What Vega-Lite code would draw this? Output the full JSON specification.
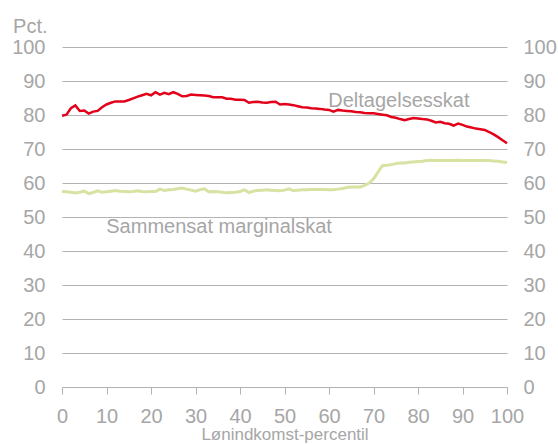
{
  "$schema": "https://vega.github.io/schema/vega-lite/v6.json",
  "width": 445,
  "height": 340,
  "autosize": "none",
  "padding": {"left": 62, "top": 47, "right": 51, "bottom": 57},
  "background": "white",
  "config": {
    "view": {"stroke": null},
    "font": "Liberation Sans",
    "axis": {"labelColor": "#a6a6a6", "titleColor": "#a6a6a6", "labelFont": "Liberation Sans", "titleFont": "Liberation Sans", "titleFontWeight": "normal"}
  },
  "datasets": {
    "red": [
      [0,79.8],[1,80.1],[2,82],[3,82.8],[4,81.2],[5,81.3],[6,80.4],[7,81],[8,81.2],[9,82.3],[10,83.1],[11,83.6],[12,84],[13,84],[14,84],[15,84.4],[16,84.9],[17,85.4],[18,85.8],[19,86.2],[20,85.8],[21,86.7],[22,86],[23,86.5],[24,86.1],[25,86.7],[26,86.2],[27,85.5],[28,85.6],[29,86],[30,85.9],[31,85.8],[32,85.7],[33,85.6],[34,85.2],[35,85.2],[36,85.2],[37,84.8],[38,84.8],[39,84.5],[40,84.5],[41,84.4],[42,83.6],[43,83.8],[44,83.9],[45,83.7],[46,83.6],[47,83.8],[48,83.9],[49,83.1],[50,83.2],[51,83.1],[52,82.9],[53,82.6],[54,82.3],[55,82.2],[56,82],[57,81.9],[58,81.8],[59,81.6],[60,81.5],[61,81],[62,81.5],[63,81.3],[64,81.2],[65,81.1],[66,80.9],[67,80.8],[68,80.6],[69,80.5],[70,80.5],[71,80.3],[72,80.1],[73,79.9],[74,79.4],[75,79.2],[76,78.8],[77,78.5],[78,78.8],[79,79.1],[80,79],[81,78.8],[82,78.7],[83,78.3],[84,77.8],[85,78],[86,77.6],[87,77.4],[88,76.9],[89,77.5],[90,77.1],[91,76.6],[92,76.3],[93,76],[94,75.8],[95,75.6],[96,75],[97,74.3],[98,73.5],[99,72.6],[100,71.7]
    ],
    "green": [
      [0,57.5],[1,57.4],[2,57.3],[3,57.1],[4,57.3],[5,57.6],[6,56.9],[7,57.2],[8,57.7],[9,57.3],[10,57.4],[11,57.6],[12,57.8],[13,57.6],[14,57.5],[15,57.4],[16,57.5],[17,57.7],[18,57.5],[19,57.4],[20,57.5],[21,57.5],[22,58.2],[23,57.8],[24,58],[25,58.1],[26,58.3],[27,58.5],[28,58.2],[29,57.9],[30,57.6],[31,58],[32,58.3],[33,57.4],[34,57.5],[35,57.4],[36,57.3],[37,57.1],[38,57.2],[39,57.3],[40,57.5],[41,58],[42,57.2],[43,57.6],[44,57.8],[45,57.9],[46,58],[47,57.9],[48,57.8],[49,57.7],[50,57.9],[51,58.3],[52,57.7],[53,57.9],[54,58],[55,58],[56,58.1],[57,58.1],[58,58.1],[59,58.1],[60,58],[61,58],[62,58.2],[63,58.4],[64,58.7],[65,58.8],[66,58.8],[67,58.8],[68,59.3],[69,60],[70,61.2],[71,63.2],[72,65.1],[73,65.2],[74,65.4],[75,65.7],[76,65.9],[77,65.9],[78,66.1],[79,66.2],[80,66.3],[81,66.4],[82,66.6],[83,66.7],[84,66.6],[85,66.6],[86,66.6],[87,66.6],[88,66.6],[89,66.7],[90,66.6],[91,66.6],[92,66.6],[93,66.6],[94,66.6],[95,66.6],[96,66.6],[97,66.5],[98,66.4],[99,66.2],[100,66]
    ],
    "labels": [
      {"x": 75.7, "y": 82.5, "t": "Deltagelsesskat"},
      {"x": 35.3, "y": 45.3, "t": "Sammensat marginalskat"}
    ]
  },
  "layer": [
    {
      "data": {"name": "green"},
      "transform": [{"calculate": "datum[0]", "as": "p"}, {"calculate": "datum[1]", "as": "v"}],
      "mark": {"type": "line", "color": "#d6e3a3", "strokeWidth": 3},
      "encoding": {
        "x": {"field": "p", "type": "quantitative", "scale": {"domain": [0, 100], "nice": false},
          "axis": {"values": [0,10,20,30,40,50,60,70,80,90,100], "grid": false, "domainColor": "#b3b3b3", "tickColor": "#b3b3b3", "tickSize": 7, "labelFontSize": 20, "labelPadding": 12, "title": "Lønindkomst-percentil", "titleFontSize": 17, "titlePadding": 0, "labelFlush": false}},
        "y": {"field": "v", "type": "quantitative", "scale": {"domain": [0, 100], "nice": false},
          "axis": {"values": [0,10,20,30,40,50,60,70,80,90,100], "orient": "left", "grid": true, "gridColor": "#b3b3b3", "domain": false, "ticks": false, "labelFontSize": 20, "labelPadding": 17, "title": "Pct.", "titleFontSize": 20, "titleAngle": 0, "titleAlign": "right", "titleBaseline": "alphabetic", "titleX": -15, "titleY": -15}}
      }
    },
    {
      "data": {"name": "red"},
      "transform": [{"calculate": "datum[0]", "as": "p"}, {"calculate": "datum[1]", "as": "v"}],
      "mark": {"type": "line", "color": "#e2001a", "strokeWidth": 2.5},
      "encoding": {
        "x": {"field": "p", "type": "quantitative"},
        "y": {"field": "v", "type": "quantitative",
          "axis": {"values": [0,10,20,30,40,50,60,70,80,90,100], "orient": "right", "grid": false, "domain": false, "ticks": false, "labelFontSize": 20, "labelPadding": 16, "title": null}}
      }
    },
    {
      "data": {"name": "labels"},
      "mark": {"type": "text", "fontSize": 20, "color": "#a6a6a6", "align": "center", "baseline": "alphabetic", "font": "Liberation Sans"},
      "encoding": {
        "x": {"field": "x", "type": "quantitative"},
        "y": {"field": "y", "type": "quantitative", "axis": null},
        "text": {"field": "t"}
      }
    }
  ],
  "resolve": {"axis": {"y": "independent"}}
}
